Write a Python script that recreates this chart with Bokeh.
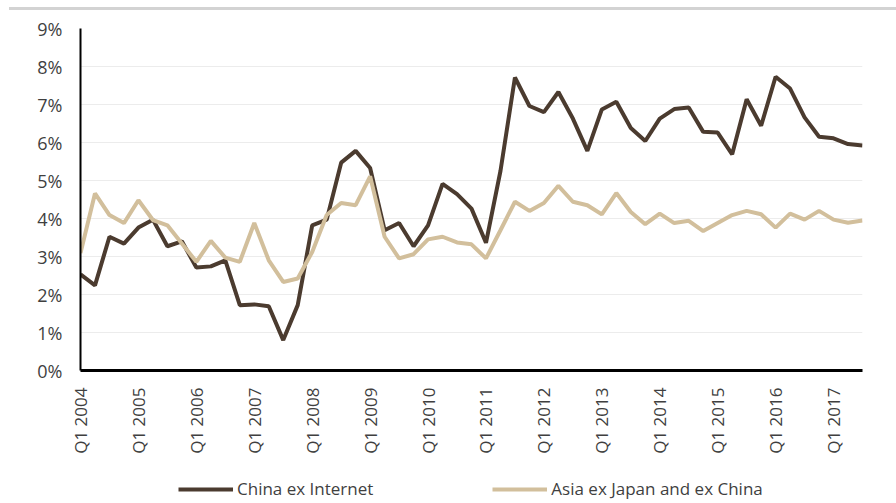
from bokeh.plotting import figure
from bokeh.models import (FixedTicker, PrintfTickFormatter, Legend, LegendItem,
                          Range1d, Div)
from bokeh.layouts import column
from bokeh.embed import file_html
from bokeh.resources import INLINE
import math

# Quarterly series, Q1 2004 .. Q3 2017 (percent)
quarters = [f"Q{q} {y}" for y in range(2004, 2018) for q in range(1, 5)][:55]

china_ex_internet = [
    2.53, 2.24, 3.52, 3.34, 3.76, 3.97, 3.27, 3.40, 2.71, 2.74,
    2.90, 1.72, 1.74, 1.69, 0.80, 1.72, 3.82, 3.97, 5.47, 5.78,
    5.33, 3.69, 3.88, 3.27, 3.82, 4.91, 4.64, 4.26, 3.36, 5.25,
    7.71, 6.96, 6.80, 7.33, 6.63, 5.78, 6.87, 7.07, 6.38, 6.04,
    6.63, 6.88, 6.92, 6.28, 6.26, 5.69, 7.14, 6.44, 7.73, 7.42,
    6.66, 6.15, 6.11, 5.96, 5.92,
]

asia_ex_japan_ex_china = [
    3.09, 4.66, 4.09, 3.88, 4.48, 3.96, 3.82, 3.34, 2.86, 3.41,
    2.97, 2.86, 3.88, 2.90, 2.33, 2.42, 3.12, 4.09, 4.41, 4.35,
    5.11, 3.52, 2.95, 3.06, 3.45, 3.52, 3.37, 3.32, 2.95, 3.69,
    4.44, 4.20, 4.41, 4.86, 4.44, 4.35, 4.11, 4.67, 4.17, 3.85,
    4.13, 3.88, 3.94, 3.67, 3.88, 4.09, 4.20, 4.11, 3.76, 4.13,
    3.97, 4.20, 3.97, 3.89, 3.95,
]

series_names = ["China ex Internet", "Asia ex Japan and ex China"]
series_colors = ["#4b3b2f", "#d2bf9c"]
y_ticks = list(range(0, 10))

FONT = "Open Sans"
TEXT = "#3f3f3f"

x = list(range(len(quarters)))

p = figure(frame_width=782, frame_height=342, output_backend="svg",
           toolbar_location=None,
           x_range=Range1d(0, len(quarters) - 1), y_range=Range1d(0, 9),
           min_border_left=80, min_border_right=34, min_border_top=16,
           min_border_bottom=95)
p.outline_line_color = None

for vals, color in zip([china_ex_internet, asia_ex_japan_ex_china], series_colors):
    p.line(x, vals, line_color=color, line_width=4)

# x axis: one label per first quarter of each year
first_q = [i for i, q in enumerate(quarters) if q.startswith("Q1")]
p.xaxis.ticker = FixedTicker(ticks=first_q)
p.xaxis.major_label_overrides = {i: quarters[i] for i in first_q}
p.xaxis.major_label_orientation = math.pi / 2
p.xaxis.major_label_standoff = 11
p.xaxis.axis_line_color = "black"
p.xaxis.axis_line_width = 3

p.yaxis.ticker = FixedTicker(ticks=y_ticks)
p.yaxis.formatter = PrintfTickFormatter(format="%d%%")
p.yaxis.major_label_standoff = 12
p.yaxis.axis_line_color = "black"
p.yaxis.axis_line_width = 2

for ax in [p.xaxis[0], p.yaxis[0]]:
    ax.major_tick_line_color = None
    ax.minor_tick_line_color = None
    ax.major_label_text_font = FONT
    ax.major_label_text_color = TEXT
p.xaxis.major_label_text_font_size = "17px"
p.yaxis.major_label_text_font_size = "18px"

p.xgrid.grid_line_color = None
p.ygrid.grid_line_color = "#ececec"
p.ygrid.grid_line_width = 1

# legend strip under the chart; its swatch renderers hold a single empty point
key = figure(width=896, height=38, output_backend="svg", toolbar_location=None,
             x_axis_type=None, y_axis_type=None, min_border=0,
             x_range=Range1d(0, 1), y_range=Range1d(0, 1))
key.outline_line_color = None
swatches = [key.line([0], [float("nan")], line_color=c, line_width=4)
            for c in series_colors]
legend = Legend(
    items=[LegendItem(label=n, renderers=[r]) for n, r in zip(series_names, swatches)],
    orientation="horizontal", location=(98, 3),
    label_text_font=FONT, label_text_font_size="17px", label_text_color=TEXT,
    glyph_width=55, glyph_height=20, label_standoff=4, spacing=119,
    border_line_color=None, background_fill_alpha=0, padding=0, margin=0,
)
key.add_layout(legend, "center")

# thin rule across the top of the page
rule = Div(text="", width=887, height=3, margin=(7, 0, 2, 9),
           styles={"background-color": "#d3d3d3"})

open("out.html", "w").write(file_html(column(rule, p, key, spacing=0), INLINE))
